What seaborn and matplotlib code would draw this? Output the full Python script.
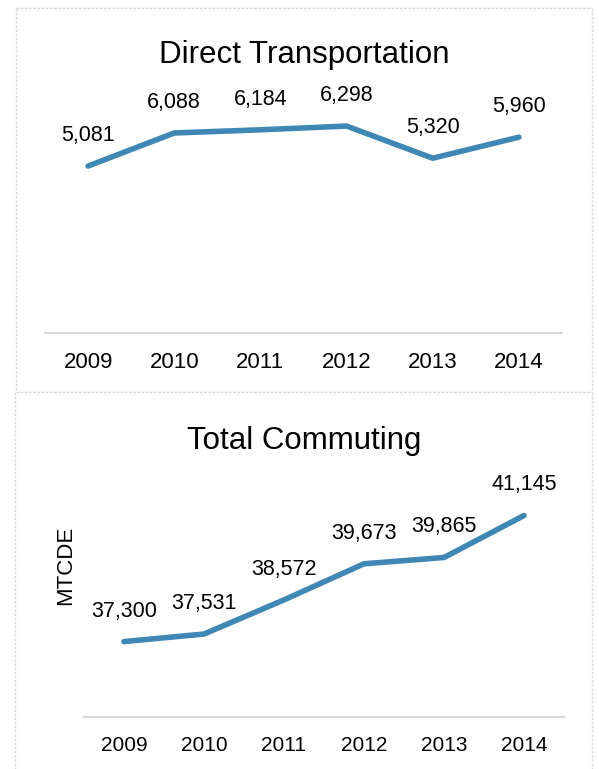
import matplotlib
matplotlib.use("Agg")
import matplotlib.pyplot as plt
from matplotlib.lines import Line2D
import seaborn as sns
import pandas as pd

years = ["2009", "2010", "2011", "2012", "2013", "2014"]
direct_transport = [5081, 6088, 6184, 6298, 5320, 5960]
total_commuting = [37300, 37531, 38572, 39673, 39865, 41145]

sns.set_theme(style="white")
FAM = ["Liberation Sans", "DejaVu Sans"]
plt.rcParams["font.family"] = FAM

LINE_COLOR = "#3F88B5"
GRID_GRAY = "#d9d9d9"

fig = plt.figure(figsize=(5.99, 7.69), dpi=100)
W, H = 599, 769

def axes_px(x0, x1, ytop, ybot):
    return fig.add_axes([x0 / W, 1 - ybot / H, (x1 - x0) / W, (ybot - ytop) / H])

ax1 = axes_px(45, 562, 103, 333)
ax2 = axes_px(84, 564, 487.5, 717)

def draw(ax, values, ylim, tick_size, title, title_y):
    df = pd.DataFrame({"year": years, "value": values})
    sns.lineplot(data=df, x="year", y="value", ax=ax, color=LINE_COLOR,
                 linewidth=4.0, solid_capstyle="round", solid_joinstyle="miter",
                 sort=False)
    ax.set_xlim(-0.5, len(years) - 0.5)
    ax.set_ylim(*ylim)
    for s in ["top", "right", "left"]:
        ax.spines[s].set_visible(False)
    ax.spines["bottom"].set_color(GRID_GRAY)
    ax.spines["bottom"].set_linewidth(1.5)
    ax.set_yticks([])
    ax.set_xlabel("")
    ax.set_ylabel("")
    ax.tick_params(axis="x", length=0, pad=14)
    for lab in ax.get_xticklabels():
        lab.set_fontsize(tick_size)
        lab.set_color("#000000")
    for i, v in enumerate(values):
        ax.annotate(f"{v:,}", xy=(i, v), xytext=(0, 22), textcoords="offset points",
                    ha="center", va="center", fontsize=15.5, color="#000000")
    ax.set_facecolor("none")
    fig.text(304 / W, 1 - title_y / H, title, ha="center", va="baseline",
             fontsize=22.5, color="#000000")

draw(ax1, direct_transport, (0, 7000), 16, "Direct Transportation", 63)
draw(ax2, total_commuting, (35000, 42000), 15, "Total Commuting", 449)

fig.text(66 / W, 1 - 565 / H, "MTCDE", rotation=90, ha="center", va="center",
         fontsize=16, color="#000000")

def fline(x0, y0, x1, y1):
    fig.add_artist(Line2D([x0 / W, x1 / W], [1 - y0 / H, 1 - y1 / H],
                          transform=fig.transFigure, color=GRID_GRAY,
                          linewidth=1.0, linestyle=(0, (2, 1))))

# top panel border
fline(16, 8, 592, 8)
fline(16, 8, 16, 392)
fline(592, 8, 592, 392)
fline(16, 392, 592, 392)
# bottom panel border
fline(15, 392, 15, 769)
fline(592, 392, 592, 769)

fig.savefig("out.png", dpi=100)
